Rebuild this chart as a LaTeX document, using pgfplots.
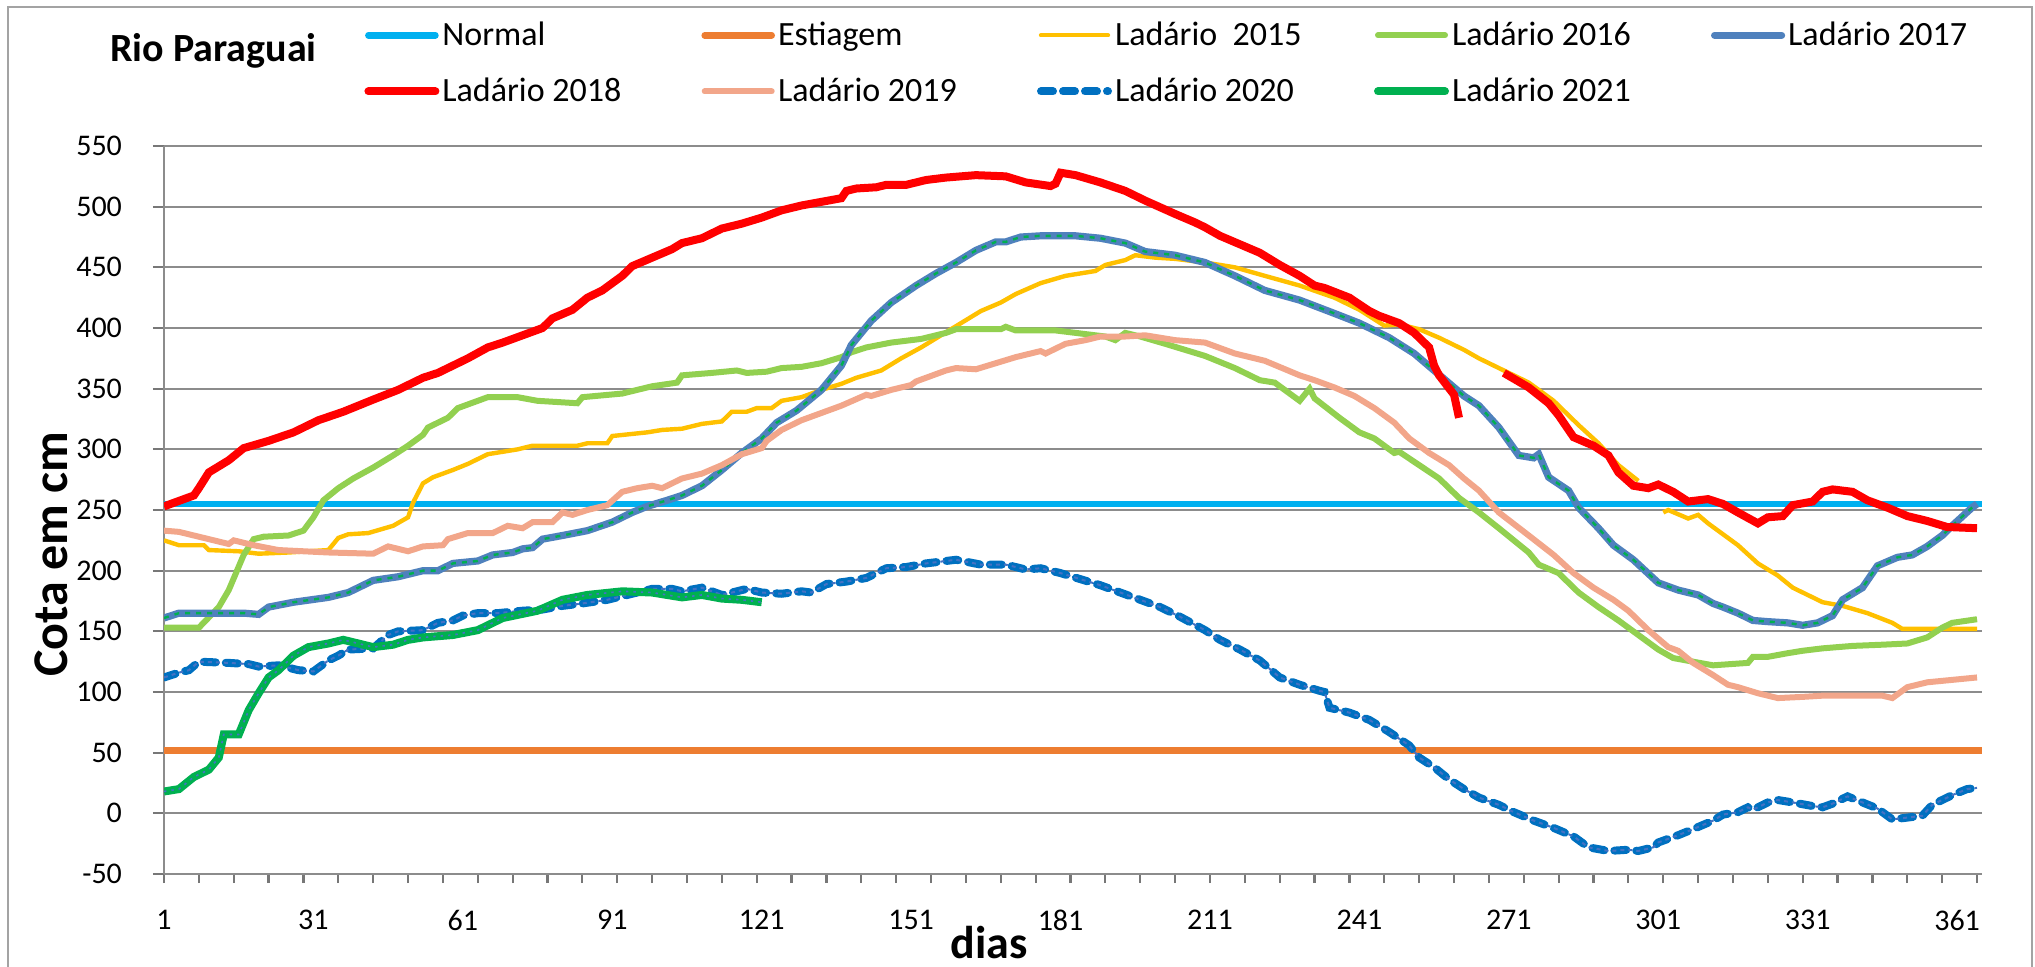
\documentclass[border=0pt]{standalone}
\usepackage{fontspec}
\setmainfont{Carlito}
\usepackage{pgfplots}
\pgfplotsset{compat=1.18}
\usepackage{pgfplotstable}
\definecolor{cNormal}{HTML}{00B0F0}
\definecolor{cEst}{HTML}{ED7D31}
\definecolor{c15}{HTML}{FFC000}
\definecolor{c16}{HTML}{92D050}
\definecolor{c17}{HTML}{4F81BD}
\definecolor{c18}{HTML}{FF0000}
\definecolor{c19}{HTML}{F2A68A}
\definecolor{c20}{HTML}{0070C0}
\definecolor{c21}{HTML}{00B050}
\definecolor{gridc}{HTML}{8C8C8C}
\definecolor{tri}{HTML}{4472C4}

\pgfplotstableread{
x y
1 225
4 221
9 221
10 217
16 216
20 214
26 215
34 217
36 227
38 230
42 231
47 237
50 244
51 256
53 272
55 277
59 283
62 288
66 296
72 300
75 303
84 303
86 305
90 305
91 311
98 314
101 316
105 317
109 321
113 323
115 331
118 331
120 334
123 334
125 340
129 343
133 349
137 354
140 359
145 365
149 375
153 384
157 394
161 404
165 414
169 421
172 428
177 437
182 443
188 447
190 452
194 456
196 460
200 458
204 457
210 454
216 450
222 443
229 435
236 425
241 415
246 402
249 403
253 399
257 392
262 382
265 375
269 367
275 355
280 340
285 320
289 305
293 287
297 274
299 nan
302 248
303 250
307 243
309 246
311 239
314 230
317 221
321 206
325 196
328 186
334 174
338 171
343 165
348 157
350 152
365 152
}\dfifteen

\pgfplotstableread{
x y
1 153
8 153
12 170
14 184
17 213
19 226
21 228
26 229
29 233
31 244
33 258
36 268
39 276
43 285
47 295
50 303
53 312
54 318
58 326
60 334
66 343
72 343
76 340
84 338
85 343
93 346
99 352
104 355
105 361
111 363
116 365
118 363
122 364
125 367
129 368
133 371
137 376
139 380
142 384
147 388
153 391
158 396
160 399
169 399
170 401
172 398
180 398
186 395
190 393
192 390
194 396
197 393
202 387
206 382
210 377
216 367
221 357
224 355
229 340
231 350
232 342
237 326
241 314
244 309
248 297
249 298
253 287
257 276
261 260
265 248
269 235
275 215
277 205
281 198
285 182
289 170
293 159
297 147
301 135
304 128
308 125
312 122
319 124
320 129
323 129
327 132
330 134
334 136
340 138
346 139
351 140
355 145
358 153
360 157
365 160
}\dsixteen

\pgfplotstableread{
x y
1 161
4 165
17 165
20 164
22 170
27 174
34 178
38 182
43 192
48 195
53 200
56 200
59 206
64 208
67 213
71 215
73 218
75 219
77 226
81 229
86 233
91 240
95 248
98 253
102 258
105 262
109 270
113 283
117 297
121 309
124 322
128 332
133 349
137 369
139 386
143 406
147 421
152 435
156 445
160 454
164 464
168 471
170 471
173 475
177 476
184 476
189 474
194 470
198 463
204 460
208 456
210 454
216 443
222 431
229 423
236 412
241 404
247 392
252 379
256 365
260 351
262 344
265 336
269 318
273 295
276 293
277 296
279 277
283 266
285 252
289 235
292 221
296 209
301 190
305 184
309 180
312 173
314 170
317 165
320 159
323 158
327 157
330 155
333 157
336 163
338 176
342 186
345 204
349 211
352 213
355 220
358 229
360 237
364 252
365 255
}\dseventeen

\pgfplotstableread{
x y
1 253
7 262
8 268
10 281
14 291
17 301
22 307
27 314
32 324
37 331
43 341
48 349
53 359
56 363
59 369
62 375
66 384
69 388
73 394
77 400
79 408
83 415
86 425
89 431
93 443
95 451
99 458
103 465
105 470
109 474
113 482
117 486
121 491
125 497
129 501
133 504
137 507
138 513
140 515
144 516
146 518
150 518
154 522
158 524
164 526
170 525
174 520
179 517
180 519
181 528
184 526
189 520
194 513
198 505
204 494
208 487
210 483
213 476
217 469
221 462
225 452
229 443
232 435
234 433
239 425
243 414
245 410
249 404
252 396
255 384
256 369
257 361
260 345
261 326
265 nan
270 363
275 351
279 338
281 328
284 310
288 303
291 295
293 281
296 270
299 268
301 271
304 265
307 257
311 259
314 255
317 248
321 239
323 244
326 245
328 254
332 257
334 265
336 267
340 265
343 258
347 252
351 245
355 241
359 236
365 235
}\deighteen

\pgfplotstableread{
x y
1 233
4 232
7 229
14 222
15 225
19 221
24 217
34 215
43 214
46 220
50 216
53 220
57 221
58 226
62 231
67 231
70 237
73 235
75 240
79 240
81 248
83 246
86 250
90 254
93 265
96 268
99 270
101 268
105 276
109 280
113 287
117 296
121 301
122 307
125 316
129 324
133 330
137 336
142 345
143 344
147 349
151 353
152 356
158 365
160 367
164 366
168 371
172 376
177 381
178 379
182 387
186 390
189 393
194 393
198 394
204 390
210 388
216 379
222 373
229 361
232 357
236 351
240 344
244 334
248 322
251 309
255 297
259 287
262 276
265 266
269 248
275 229
280 213
284 198
288 186
292 176
295 167
299 151
303 137
305 134
308 124
312 114
315 106
317 104
321 99
325 95
330 96
334 97
340 97
346 97
348 95
351 104
355 108
360 110
365 112
}\dnineteen

\pgfplotstableread{
x y
1 112
4 116
6 118
8 125
14 124
18 123
20 121
24 122
28 118
31 117
34 126
36 130
38 135
43 136
46 147
48 150
53 151
56 157
59 159
61 163
64 165
68 165
73 167
77 168
81 171
85 173
90 176
95 181
99 185
103 185
105 183
109 186
113 180
118 185
121 182
125 181
129 183
131 182
134 189
138 191
142 194
146 202
150 203
154 206
160 209
165 205
170 205
174 201
177 202
181 198
185 193
189 188
193 182
197 176
201 170
205 162
210 151
213 143
217 135
221 126
225 112
229 106
233 101
234 100
235 87
239 83
243 77
247 67
251 56
253 46
256 38
259 28
262 20
265 13
269 7
272 1
276 -6
280 -12
284 -19
287 -28
291 -31
295 -30
297 -31
300 -28
301 -24
305 -18
308 -13
312 -6
314 -1
317 1
319 5
320 3
323 9
325 11
328 9
332 6
334 5
336 8
339 14
342 9
345 4
348 -5
354 -2
356 7
360 15
363 20
365 21
}\dtwenty

\pgfplotstableread{
x y
1 18
4 20
7 30
10 36
12 46
13 65
16 65
18 85
20 99
22 112
24 118
27 130
30 137
34 140
37 143
43 137
47 139
50 143
53 145
59 147
64 151
69 161
76 167
81 176
86 180
93 183
99 182
105 178
109 180
113 177
117 176
121 174
}\dtwentyone

\newcommand{\lgt}[1]{\makebox[128pt][l]{\rule[-4pt]{0pt}{16pt}#1}}

\begin{document}
\begin{tikzpicture}
\path[use as bounding box] (0,0) rectangle (1017.5pt,-483pt);
\draw[gridc!80, line width=0.8pt] (4pt,-3.5pt) rectangle (1016pt,-495pt);
\node[font=\bfseries\fontsize{20}{20}\selectfont, anchor=base west, inner sep=0pt] at (55pt,-30.5pt) {Rio Paraguai};
\node[font=\bfseries\fontsize{25}{25}\selectfont, rotate=90, anchor=base, inner sep=0pt] at (34pt,-277pt) {Cota em cm};
\node[font=\bfseries\fontsize{23}{23}\selectfont, anchor=base, inner sep=0pt] at (494.5pt,-479pt) {dias};
\begin{axis}[
 at={(82pt,-437pt)}, anchor=south west,
 scale only axis, width=909pt, height=364pt,
 xmin=1, xmax=366, ymin=-50, ymax=550,
 axis x line*=bottom, axis y line*=left,
 axis line style={draw=gridc, line width=1pt},
 ymajorgrids, major grid style={draw=gridc, line width=1pt},
 ytick={-50,0,...,550},
 yticklabels={-50,0,50,100,150,200,250,300,350,400,450,500,550},
 xtick={1,31,...,361},
 xticklabels={1,31,61,91,121,151,181,211,241,271,301,331,361},
 minor xtick={1,8,...,365},
 every major x tick/.append style={draw=none},
 xtick align=outside, ytick align=outside,
 major tick length=5.5pt, minor tick length=4.5pt,
 every tick/.style={draw=gridc!85!black, line width=1.1pt},
 ticklabel style={font=\fontsize{15}{15}\selectfont},
 xticklabel style={yshift=-9pt},
 yticklabel style={xshift=-12pt},
 unbounded coords=jump,
 legend columns=5,
 legend style={at={(0.11001,1.1913)}, anchor=north west, draw=none, fill=none,
   inner sep=0pt, font=\fontsize{17}{17}\selectfont,
   nodes={inner xsep=1.5pt, inner ysep=7.3pt},
   /tikz/every even column/.append style={column sep=0pt}},
 legend cell align=left,
 legend image code/.code={\draw[#1, line cap=round] (0pt,0pt) -- (33.5pt,0pt);},
]
\addplot[cNormal, line width=3.3pt] coordinates {(1,255) (366,255)};
\addlegendentry{\lgt{Normal}}
\addplot[cEst, line width=3.3pt] coordinates {(1,52) (366,52)};
\addlegendentry{\lgt{Estiagem}}
\addplot[c15, line width=2.2pt] table {\dfifteen};
\addlegendentry{\lgt{Ladário\ \ 2015}}
\addplot[c16, line width=3pt] table {\dsixteen};
\addlegendentry{\lgt{Ladário 2016}}
\addplot[c17, line width=3.6pt] table {\dseventeen};
\addlegendentry{\lgt{Ladário 2017}}
\addplot[c21, line width=1.2pt, dash pattern=on 2.5pt off 3pt, forget plot] table {\dseventeen};
\addplot[c18, line width=4pt] table {\deighteen};
\addlegendentry{\lgt{Ladário 2018}}
\addplot[c19, line width=3pt] table {\dnineteen};
\addlegendentry{\lgt{Ladário 2019}}
\addplot[c20, line width=4pt, dash pattern=on 6pt off 5pt, line cap=round] table {\dtwenty};
\addlegendentry{\lgt{Ladário 2020}}
\addplot[tri, line width=1pt, dash pattern=on 2pt off 2pt, forget plot] table {\dtwenty};
\addplot[c21, line width=4pt] table {\dtwentyone};
\addlegendentry{\lgt{Ladário 2021}}
\addplot[tri, line width=0.8pt, dash pattern=on 1.2pt off 2.5pt, forget plot] table {\dtwentyone};
\end{axis}
\end{tikzpicture}
\end{document}
